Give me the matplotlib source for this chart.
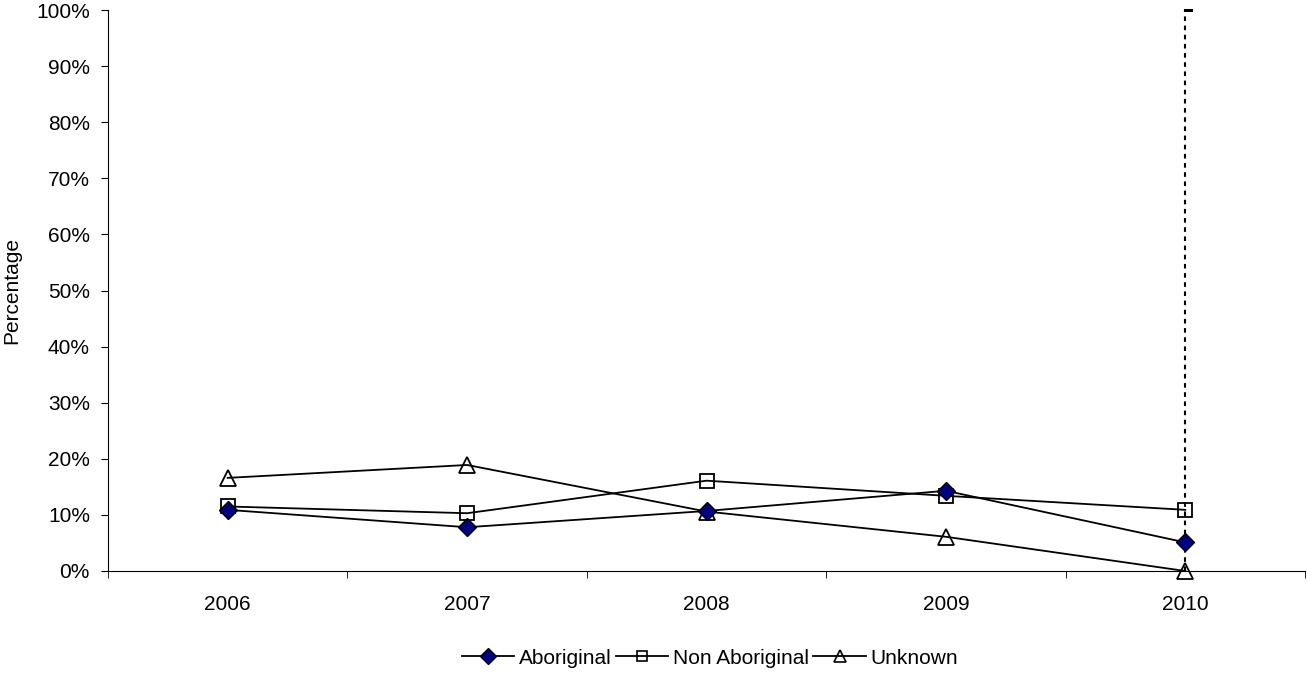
import matplotlib
matplotlib.use("Agg")
import matplotlib.pyplot as plt
from matplotlib.lines import Line2D
from matplotlib.ticker import PercentFormatter

plt.rcParams['font.family'] = ['Liberation Sans', 'DejaVu Sans']

years = ["2006", "2007", "2008", "2009", "2010"]
aboriginal = [10.9, 7.8, 10.7, 14.3, 5.1]
non_aboriginal = [11.5, 10.3, 16.1, 13.4, 10.9]
unknown = [16.6, 18.9, 10.6, 6.1, 0.0]
marker_year_index = 4
marker_top = 100

fig = plt.figure(figsize=(13.07, 6.73), dpi=100)
ax = fig.add_axes([108/1307, 1 - 571/673, (1305-108)/1307, (571-10)/673])

x = list(range(len(years)))
ax.plot(x, unknown, color='black', lw=1.3, marker='^', ms=12,
        mfc='none', mec='black', mew=1.3, zorder=3, clip_on=False)
ax.plot(x, non_aboriginal, color='black', lw=1.3, marker='s', ms=10,
        mfc='none', mec='black', mew=1.3, zorder=4, clip_on=False)
ax.plot(x, aboriginal, color='black', lw=1.3, marker='D', ms=9,
        mfc='#000080', mec='black', mew=1, zorder=5, clip_on=False)

xi = x[marker_year_index]
ax.plot([xi, xi], [0, marker_top], color='black', lw=1.5, ls=(0, (2.2, 2.2)), zorder=2, clip_on=False)
ax.plot([xi, xi + 0.025], [marker_top, marker_top], color='black', lw=2.2, zorder=2, clip_on=False)

ax.set_xlim(-0.5, len(years) - 0.5)
ax.set_ylim(0, 100)
ax.set_yticks(range(0, 101, 10))
ax.yaxis.set_major_formatter(PercentFormatter(decimals=0))
ax.set_xticks(x)
ax.set_xticklabels(years)
ax.set_xticks([i - 0.5 for i in range(len(years) + 1)], minor=True)
ax.tick_params(axis='x', which='major', length=0, pad=17, labelsize=15)
ax.tick_params(axis='x', which='minor', length=5, direction='out')
ax.tick_params(axis='y', length=5, direction='out', labelsize=15, pad=8)
for s in ['top', 'right']:
    ax.spines[s].set_visible(False)
fig.text(12/1307, 1 - 291/673, 'Percentage', rotation=90, ha='center', va='center', fontsize=15)

handles = [
    Line2D([], [], color='black', lw=1.3, marker='D', ms=8, mfc='#000080', mec='black', mew=1),
    Line2D([], [], color='black', lw=1.3, marker='s', ms=7, mfc='none', mec='black', mew=1.2),
    Line2D([], [], color='black', lw=1.3, marker='^', ms=8, mfc='none', mec='black', mew=1.2),
]
labels = ['Aboriginal', 'Non Aboriginal', 'Unknown']
ax.legend(handles, labels, loc='upper center', bbox_to_anchor=(0.503, -0.105), ncol=3,
          frameon=False, fontsize=15, handlelength=2.5, handletextpad=0.25,
          columnspacing=0.2)

fig.savefig('out.png', dpi=100)
